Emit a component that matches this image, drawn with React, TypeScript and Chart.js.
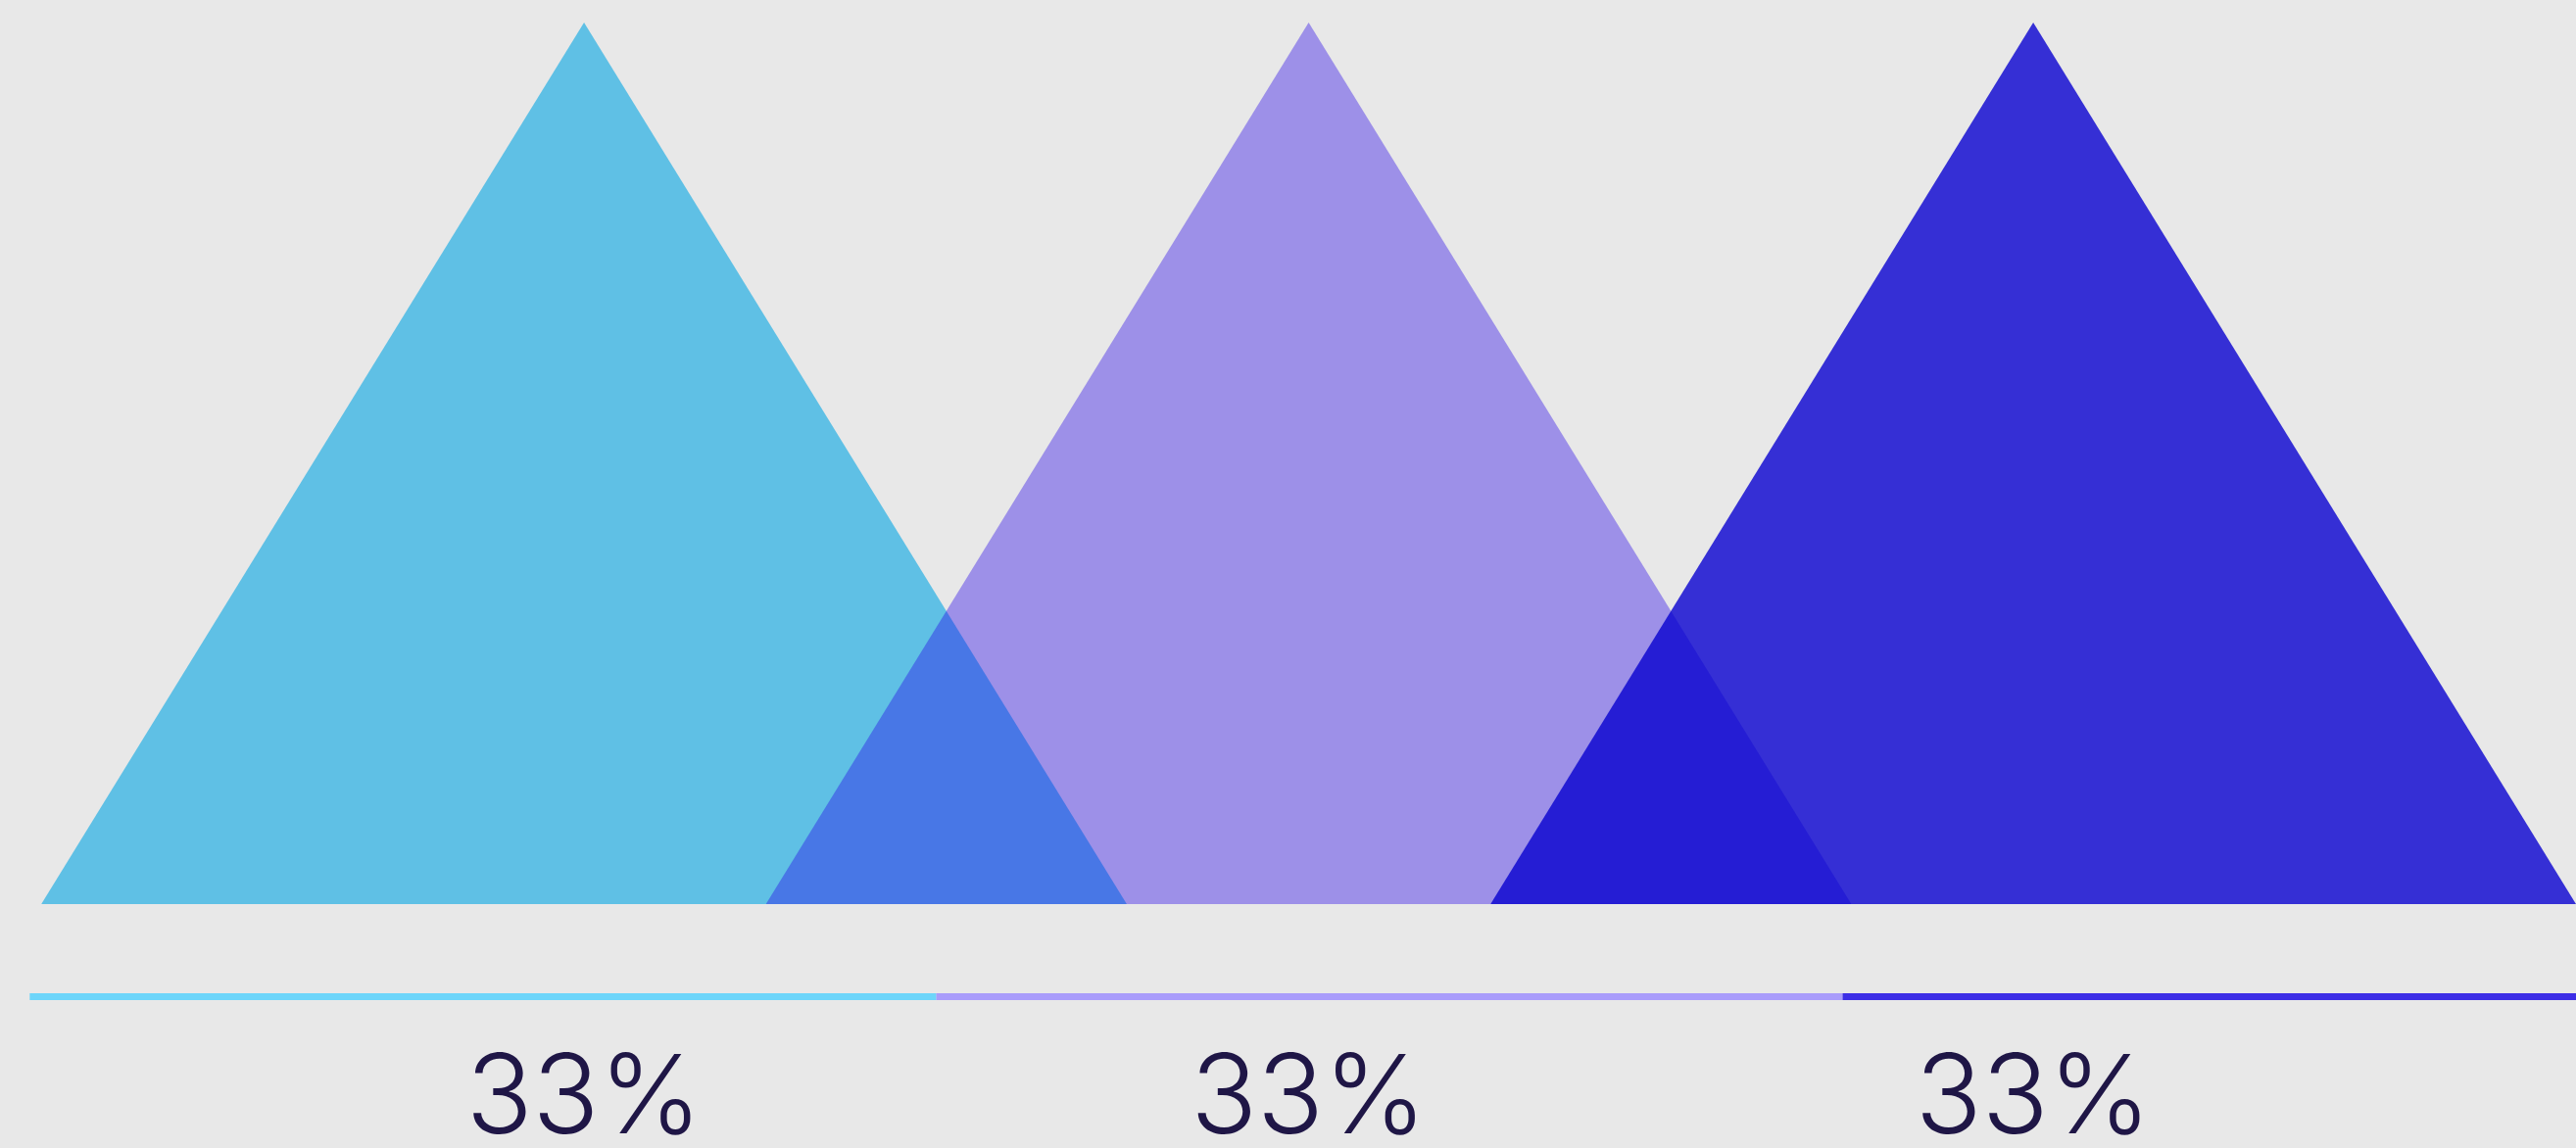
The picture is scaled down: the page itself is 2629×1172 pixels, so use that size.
import React, { useEffect, useRef } from "react";
import { Chart, registerables } from "chart.js";

Chart.register(...registerables);

// ---- data ----
const categories = ["A", "B", "C"];
const values = [33, 33, 33];
const labelSuffix = "%";
const triangleColors = ["rgba(95,192,229,1)", "rgba(35,0,232,0.38)", "rgba(7,0,207,0.8)"];
const lineColors = ["#6dd5fa", "#a99cfb", "#3d2ee6"];

// ---- layout (in scale units) ----
const X_MIN = -0.806;
const X_MAX = 2.749;
const Y_MIN = -9.13;
const Y_MAX = 33.843;
const HALF_WIDTH = 0.749;
const LINE_Y = -3.465;
const SEG_START = -0.765;
const SEG_WIDTH = 1.2508;
const LABEL_OFFSET_PX = 234;

const W = 2629;
const H = 1172;

export default function App() {
  const ref = useRef<HTMLCanvasElement | null>(null);

  useEffect(() => {
    document.body.style.margin = "0";
    document.body.style.background = "#e8e8e8";
    const canvas = ref.current!;
    const datasets: any[] = [];
    categories.forEach((_, i) => {
      datasets.push({
        label: categories[i],
        data: [
          { x: i - HALF_WIDTH, y: 0 },
          { x: i, y: values[i] },
          { x: i + HALF_WIDTH, y: 0 },
        ],
        showLine: true,
        borderWidth: 0,
        borderColor: "rgba(0,0,0,0)",
        backgroundColor: triangleColors[i],
        fill: "origin",
        pointRadius: 0,
        tension: 0,
        order: 10 - i,
      });
    });
    categories.forEach((_, i) => {
      datasets.push({
        label: "line" + i,
        data: [
          { x: SEG_START + SEG_WIDTH * i, y: LINE_Y },
          { x: SEG_START + SEG_WIDTH * (i + 1), y: LINE_Y },
        ],
        showLine: true,
        borderWidth: 7,
        borderColor: lineColors[i],
        borderCapStyle: "butt",
        fill: false,
        pointRadius: 0,
        order: 0,
      });
    });

    const labelPlugin = {
      id: "labels",
      afterDatasetsDraw(chart: any) {
        const { ctx, scales } = chart;
        ctx.save();
        ctx.fillStyle = "#1f1646";
        ctx.font = "300 112px Inter";
        ctx.textAlign = "center";
        ctx.textBaseline = "alphabetic";
        const base = scales.y.getPixelForValue(0) + LABEL_OFFSET_PX;
        values.forEach((v, i) => {
          ctx.fillText(`${v}${labelSuffix}`, scales.x.getPixelForValue(i), base);
        });
        ctx.restore();
      },
    };

    const chart = new Chart(canvas, {
      type: "scatter",
      data: { datasets },
      options: {
        animation: false,
        responsive: false,
        devicePixelRatio: 1,
        layout: { padding: 0 },
        plugins: { legend: { display: false }, tooltip: { enabled: false } },
        scales: {
          x: { type: "linear", min: X_MIN, max: X_MAX, display: false },
          y: { type: "linear", min: Y_MIN, max: Y_MAX, display: false },
        },
      },
      plugins: [labelPlugin],
    });
    return () => chart.destroy();
  }, []);

  return (
    <canvas
      ref={ref}
      width={W}
      height={H}
      style={{ display: "block", width: W, height: H }}
    />
  );
}
